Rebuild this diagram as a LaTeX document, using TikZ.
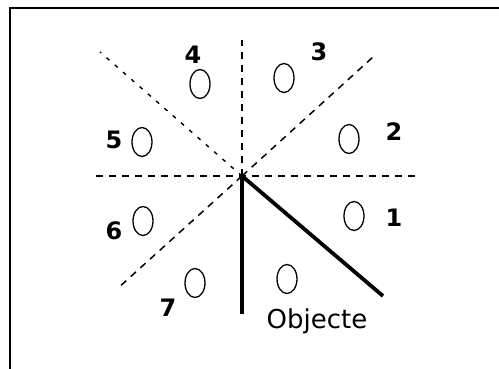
\documentclass[tikz,border=0pt]{standalone}
\usepackage{fontspec}
\setmainfont{DejaVu Sans}
\usetikzlibrary{shapes.geometric}
\begin{document}
\begin{tikzpicture}[x=1pt,y=-1pt,
  frameline/.style={line width=2.6pt},
  guide/.style={line width=1.5pt,dash pattern=on 7pt off 6pt},
  guidesparse/.style={line width=1.4pt,dash pattern=on 4pt off 7pt},
  solidline/.style={line width=3.8pt},
  spot/.style={draw,ellipse,line width=1.3pt,minimum width=20pt,minimum height=29pt,inner sep=0pt},
  num/.style={font=\fontsize{24}{24}\selectfont\bfseries,inner sep=0pt},
  objlabel/.style={font=\fontsize{26}{26}\selectfont,inner sep=0pt}]
\useasboundingbox (0,0) rectangle (499,369);
% frame
\coordinate (fbl) at (10,369);
\coordinate (ftl) at (10,8);
\coordinate (ftr) at (499,8);
\draw[frameline] (fbl) -- (ftl) -- (ftr);
% centre and guide ends
\coordinate (c) at (242,176);
\coordinate (up) at (242,40);
\coordinate (left) at (96,176);
\coordinate (right) at (419,176);
\coordinate (ul) at (100,52);
\coordinate (ur) at (373,57);
\coordinate (ll) at (117,289);
\coordinate (down) at (242,314);
\coordinate (lr) at (383,296);
\draw[guide] (c) -- (up);
\draw[guide] (left) -- (right);
\draw[guidesparse] (c) -- (ul);
\draw[guide] (c) -- (ur);
\draw[guide] (c) -- (ll);
\draw[solidline] (c) -- (down);
\draw[solidline] (c) -- (lr);
% ellipses
\node[spot] (e1) at (354,216) {};
\node[spot] (e2) at (349,139) {};
\node[spot] (e3) at (284,78) {};
\node[spot] (e4) at (200,84) {};
\node[spot] (e5) at (142,142) {};
\node[spot] (e6) at (143,221) {};
\node[spot] (e7) at (195,283) {};
\node[spot] (eo) at (287,279) {};
% labels
\node[num] (n1) at (394,218) {1};
\node[num] (n2) at (394,132) {2};
\node[num] (n3) at (319,52) {3};
\node[num] (n4) at (193,55) {4};
\node[num] (n5) at (114,140) {5};
\node[num] (n6) at (114,231) {6};
\node[num] (n7) at (168,308) {7};
\node[objlabel] (obj) at (317,321) {Objecte};
\end{tikzpicture}
\end{document}
